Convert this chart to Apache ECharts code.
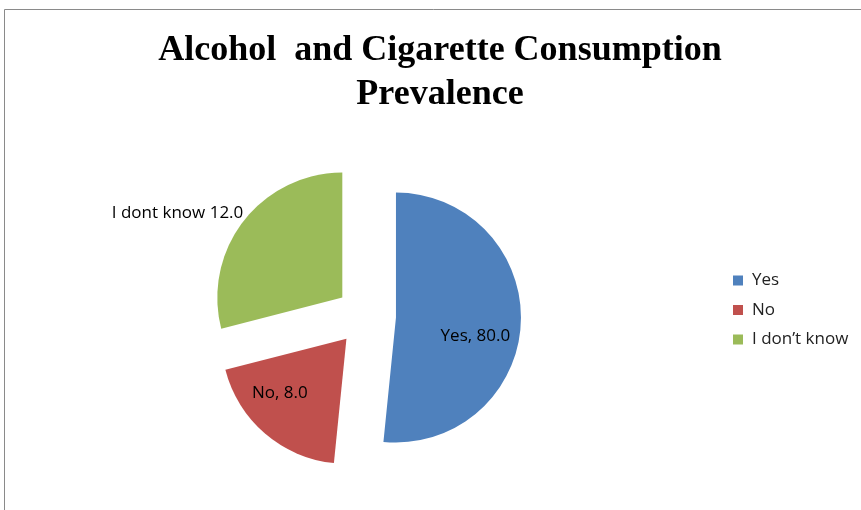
<!DOCTYPE html>
<html>
<head>
<meta charset="utf-8">
<script src="https://cdn.jsdelivr.net/npm/echarts@6/dist/echarts.min.js"></script>
<style>
html,body{margin:0;padding:0;background:#fff;}
#chart{width:861px;height:510px;}
</style>
</head>
<body>
<div id="chart"></div>
<script>
// Categories and values
const categories = ['Yes', 'No', 'I dont know'];
const legendNames = ['Yes', 'No', 'I don\u2019t know'];
const labelValues = [80.0, 8.0, 12.0];          // values printed on the chart
const sliceShares = [51.6, 19.4, 29.0];          // slice sizes as drawn in the picture
const colors = ['#4F81BD', '#C0504D', '#9BBB59'];

const chart = echarts.init(document.getElementById('chart'), null, {renderer: 'canvas'});

const data = categories.map((c, i) => ({
  name: legendNames[i],
  value: sliceShares[i],
  selected: true,
  itemStyle: {color: colors[i]}
}));

chart.setOption({
  animation: false,
  backgroundColor: '#fff',
  color: colors,
  title: {
    text: 'Alcohol  and Cigarette Consumption\nPrevalence',
    left: 435,
    top: 24,
    textAlign: 'center',
    textStyle: {
      fontFamily: 'Liberation Serif',
      fontWeight: 'bold',
      fontSize: 36,
      lineHeight: 44,
      color: '#000'
    }
  },
  legend: {
    orient: 'vertical',
    left: 728,
    top: 267,
    icon: 'rect',
    itemWidth: 10,
    itemHeight: 10,
    itemGap: 12.5,
    data: legendNames,
    selectedMode: false,
    textStyle: {fontFamily: 'Open Sans', fontSize: 17, color: '#222', padding: [0, 0, 0, 4]}
  },
  graphic: [{
    type: 'polyline',
    shape: {points: [[4.5, 520], [4.5, 9.5], [870, 9.5]]},
    style: {stroke: '#8a8a8a', lineWidth: 1, fill: null},
    silent: true
  }],
  series: [{
    type: 'pie',
    center: [366, 316],
    radius: [0, 125],
    startAngle: 90,
    clockwise: true,
    selectedMode: 'multiple',
    selectedOffset: 30,
    avoidLabelOverlap: false,
    data: data,
    label: {
      show: true,
      position: 'inside',
      fontFamily: 'Open Sans',
      fontSize: 17,
      color: '#000',
      formatter: p => {
        const i = p.dataIndex;
        const v = labelValues[i].toFixed(1);
        return i === 2 ? categories[i] + ' ' + v : categories[i] + ', ' + v;
      }
    },
    labelLine: {show: false},
    labelLayout: function (params) {
      const i = params.dataIndex;
      if (i === 0) return {dx: 14, dy: 15};
      if (i === 1) return {dx: -24, dy: 5};
      return {dx: -113, dy: -44};
    },
    emphasis: {disabled: true}
  }]
});
</script>
</body>
</html>
